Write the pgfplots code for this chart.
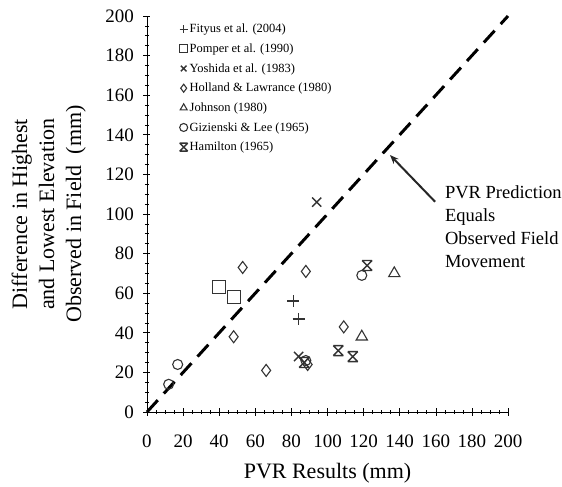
\documentclass[border=0pt]{standalone}
\usepackage{pgfplots}
\pgfplotsset{compat=1.18}
\usepackage{fontspec}
\setmainfont{Liberation Serif}
\usetikzlibrary{arrows.meta}
\pgfdeclareplotmark{hx}{%
  \pgfpathmoveto{\pgfqpoint{-\pgfplotmarksize}{\pgfplotmarksize}}%
  \pgfpathlineto{\pgfqpoint{\pgfplotmarksize}{-\pgfplotmarksize}}%
  \pgfpathmoveto{\pgfqpoint{-\pgfplotmarksize}{-\pgfplotmarksize}}%
  \pgfpathlineto{\pgfqpoint{\pgfplotmarksize}{\pgfplotmarksize}}%
  \pgfpathmoveto{\pgfqpoint{-\pgfplotmarksize}{\pgfplotmarksize}}%
  \pgfpathlineto{\pgfqpoint{\pgfplotmarksize}{\pgfplotmarksize}}%
  \pgfpathmoveto{\pgfqpoint{-\pgfplotmarksize}{-\pgfplotmarksize}}%
  \pgfpathlineto{\pgfqpoint{\pgfplotmarksize}{-\pgfplotmarksize}}%
  \pgfusepathqstroke}
\begin{document}
\begin{tikzpicture}
\begin{axis}[
  scale only axis, width=361bp, height=396bp,
  xmin=0, xmax=200, ymin=0, ymax=200,
  axis x line=bottom, axis y line=left,
  axis line style={-, line width=0.8bp},
  xtick={0,20,...,200}, ytick={0,20,...,200},
  minor tick num=3,
  tick align=center,
  major tick length=7bp, minor tick length=4bp,
  tick style={black, line width=0.6bp},
  /pgf/number format/assume math mode=true,
  tick label style={font=\fontsize{19bp}{19bp}\selectfont},
  xticklabel style={yshift=-16bp},
  yticklabel style={xshift=-6bp},
  xlabel={PVR Results (mm)},
  xlabel style={font=\fontsize{22bp}{22bp}\selectfont, at={(axis description cs:0.5,-0.154)}, anchor=center},
  ylabel={Difference in Highest\\and Lowest Elevation\\Observed in Field\ \ (mm)},
  ylabel style={font=\fontsize{22bp}{27bp}\selectfont, align=center, at={(axis description cs:-0.272,0.5)}, anchor=center},
  clip=false,
  legend style={draw=none, fill=none, at={(rel axis cs:0.09,0.985)}, anchor=north west,
    font=\fontsize{12.5bp}{14bp}\selectfont, row sep=5.5bp, inner sep=0bp,
    nodes={inner xsep=2bp}},
  legend cell align=left,
  legend image post style={mark size=4bp},
]
\addplot[only marks, mark=+, mark size=6bp, line width=1.3bp, black!80] coordinates {(81,56) (84,47)};
\addlegendentry{Fityus et al. (2004)}
\addplot[only marks, mark=square, mark size=6.5bp, line width=1.1bp, black!80] coordinates {(40,63) (48,58)};
\addlegendentry{Pomper et al. (1990)}
\addplot[only marks, mark=x, mark size=6.5bp, line width=1.4bp, black!80] coordinates {(94,106) (84,28)};
\addlegendentry{Yoshida et al. (1983)}
\addplot[only marks, mark=diamond, mark size=6bp, line width=1.1bp, black!80] coordinates {(53,73) (88,71) (48,38) (66,21) (109,43) (89,24)};
\addlegendentry{Holland \& Lawrance (1980)}
\addplot[only marks, mark=triangle, mark size=6.5bp, line width=1.1bp, black!80] coordinates {(137,70) (119,38)};
\addlegendentry{Johnson (1980)}
\addplot[only marks, mark=o, mark size=5bp, line width=1.1bp, black!80] coordinates {(12,14) (17,24) (119,69) (88,26)};
\addlegendentry{Gizienski \& Lee (1965)}
\addplot[only marks, mark=hx, mark size=5bp, line width=1.4bp, black!80] coordinates {(122,74) (106,31) (114,28) (87,25)};
\addlegendentry{Hamilton (1965)}
\addplot[black, line width=3bp, dash pattern=on 16bp off 9bp, forget plot] coordinates {(0,0) (200,200)};
\draw[-{Stealth[length=9bp,width=7bp]}, line width=2bp, black!85] (axis cs:159.6,106.2) -- (axis cs:134.6,129.8);
\node[anchor=north west, align=left, inner sep=0pt, font=\fontsize{18.5bp}{23bp}\selectfont]
  at (axis cs:165,114.5) {PVR Prediction\\Equals\\Observed Field\\Movement};
\end{axis}
\path[use as bounding box] (-147bp,-73bp) rectangle (415bp,412bp);
\end{tikzpicture}
\end{document}
